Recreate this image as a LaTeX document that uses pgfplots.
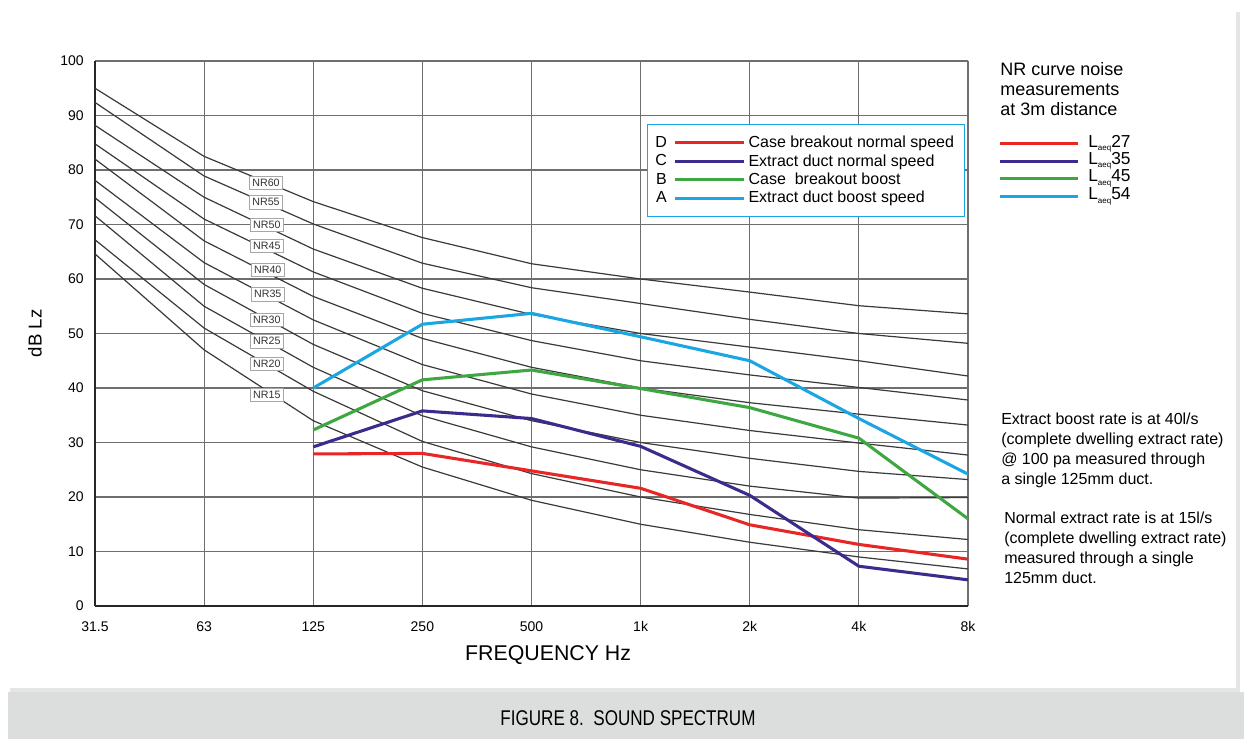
\documentclass[border=0pt]{standalone}
\usepackage{fontspec}
\setmainfont{Liberation Sans}
\newfontfamily\cond[FakeStretch=0.8]{Liberation Sans}
\usepackage{pgfplots}
\pgfplotsset{compat=1.18}
\definecolor{cRed}{RGB}{232,38,38}
\definecolor{cPur}{RGB}{62,42,140}
\definecolor{cGrn}{RGB}{62,168,64}
\definecolor{cBlu}{RGB}{26,166,226}
\definecolor{band}{RGB}{220,222,221}
\definecolor{nrgray}{RGB}{58,58,58}
\definecolor{gridgray}{RGB}{110,110,110}
\pgfplotsset{
  nr/.style={nrgray, line width=0.9pt, forget plot},
  ser/.style={line width=2.3pt},
  legL/.style={legend image code/.code={%
     \node[anchor=east, inner sep=0pt, text=black, font=\fontsize{12}{13}\selectfont] at (-5pt,0pt) {#1};
     \draw[##1] (0pt,0pt) -- (52pt,0pt);}},
}
\tikzset{
  nrlab/.style={draw=black!35, fill=white, text=black!80, font=\fontsize{8}{9}\selectfont,
     inner sep=1pt, minimum width=25pt, minimum height=10pt},
}
\begin{document}
\begin{tikzpicture}
\begin{scope}[x=0.75pt,y=-0.75pt]
\useasboundingbox (0,0) rectangle (1244,739);
\fill[white] (0,0) rectangle (1244,739);
\fill[black!10] (10,12) rectangle (1240,692);
\fill[white] (7,9) rectangle (1236,688);
\fill[band] (8,692) rectangle (1244,739);
\node[font=\cond\fontsize{16}{18}\selectfont] at (628,718) {FIGURE 8.\ \ SOUND SPECTRUM};
% right-hand texts
\node[anchor=north west, align=left, inner sep=0pt, font=\fontsize{13.5}{15}\selectfont] at (1000,62)
  {NR curve noise\\measurements\\at 3m distance};
\draw[cRed, line width=2.25pt] (1000,143.5) -- (1078,143.5);
\draw[cPur, line width=2.25pt] (1000,161) -- (1078,161);
\draw[cGrn, line width=2.25pt] (1000,178.5) -- (1078,178.5);
\draw[cBlu, line width=2.25pt] (1000,196.5) -- (1078,196.5);
\node[anchor=west, inner sep=0pt, font=\fontsize{13}{14}\selectfont] at (1088,143.5) {L\raisebox{-2.5pt}{\fontsize{6}{7}\selectfont aeq}27};
\node[anchor=west, inner sep=0pt, font=\fontsize{13}{14}\selectfont] at (1088,161) {L\raisebox{-2.5pt}{\fontsize{6}{7}\selectfont aeq}35};
\node[anchor=west, inner sep=0pt, font=\fontsize{13}{14}\selectfont] at (1088,178.5) {L\raisebox{-2.5pt}{\fontsize{6}{7}\selectfont aeq}45};
\node[anchor=west, inner sep=0pt, font=\fontsize{13}{14}\selectfont] at (1088,196.5) {L\raisebox{-2.5pt}{\fontsize{6}{7}\selectfont aeq}54};
\node[anchor=north west, align=left, inner sep=0pt, font=\fontsize{12}{15}\selectfont] at (1001,413)
  {Extract boost rate is at 40l/s\\(complete dwelling extract rate)\\@ 100 pa measured through\\a single 125mm duct.};
\node[anchor=north west, align=left, inner sep=0pt, font=\fontsize{12}{15}\selectfont] at (1004,512)
  {Normal extract rate is at 15l/s\\(complete dwelling extract rate)\\measured through a single\\125mm duct.};
\end{scope}

\begin{axis}[
  at={(71.25pt,-454.5pt)}, anchor=south west,
  scale only axis, width=654.75pt, height=408.75pt,
  xmin=0, xmax=8, ymin=0, ymax=100,
  xtick={0,...,8}, xticklabels={31.5,63,125,250,500,1k,2k,4k,8k},
  ytick={0,10,...,100},
  grid=major, major grid style={gridgray, line width=0.9pt},
  major tick length=0pt,
  axis lines*=left,
  axis line style={line width=2pt, black!85, -},
  /pgf/number format/assume math mode=true,
  tick label style={font=\fontsize{10.5}{12}\selectfont, text=black},
  xticklabel style={yshift=-8pt},
  yticklabel style={xshift=-5pt},
  xlabel={FREQUENCY Hz},
  xlabel style={font=\fontsize{16}{18}\selectfont, at={(axis description cs:0.519,-0.09)}, anchor=center},
  ylabel={dB Lz},
  ylabel style={font=\fontsize{14}{16}\selectfont, at={(axis description cs:-0.0687,0.5)}, anchor=center},
  legend style={at={(0.632,0.884)}, anchor=north west, draw=cBlu, line width=0.8pt,
     font=\fontsize{12}{13}\selectfont, inner xsep=6pt, inner ysep=6.5pt, row sep=-0.4pt},
  legend cell align=left,
]
% NR curves (31.5 ... 8k)
\addplot[nr] coordinates {(0,64.6)(1,47.0)(2,34.0)(3,25.5)(4,19.4)(5,15.0)(6,11.7)(7,9.0)(8,6.8)};
\addplot[nr] coordinates {(0,67.2)(1,51.0)(2,39.4)(3,30.2)(4,24.3)(5,20.0)(6,16.8)(7,14.0)(8,12.2)};
\addplot[nr] coordinates {(0,71.6)(1,55.0)(2,43.8)(3,34.9)(4,29.2)(5,25.0)(6,22.0)(7,19.8)(8,19.9)};
\addplot[nr] coordinates {(0,74.9)(1,59.0)(2,48.0)(3,39.5)(4,34.0)(5,30.0)(6,27.1)(7,24.7)(8,23.2)};
\addplot[nr] coordinates {(0,78.1)(1,63.0)(2,52.5)(3,44.3)(4,38.9)(5,35.0)(6,32.2)(7,29.9)(8,27.7)};
\addplot[nr] coordinates {(0,82.0)(1,67.0)(2,56.8)(3,49.1)(4,43.8)(5,40.0)(6,37.3)(7,35.2)(8,33.2)};
\addplot[nr] coordinates {(0,84.8)(1,71.0)(2,61.3)(3,53.7)(4,48.7)(5,45.0)(6,42.4)(7,40.1)(8,37.8)};
\addplot[nr] coordinates {(0,88.2)(1,75.0)(2,65.5)(3,58.3)(4,53.5)(5,50.0)(6,47.5)(7,45.0)(8,42.2)};
\addplot[nr] coordinates {(0,92.4)(1,78.9)(2,70.1)(3,62.9)(4,58.4)(5,55.5)(6,52.6)(7,50.0)(8,48.2)};
\addplot[nr] coordinates {(0,95.0)(1,82.5)(2,74.2)(3,67.6)(4,62.8)(5,60.0)(6,57.6)(7,55.1)(8,53.6)};
% NR labels
\node[nrlab] at (axis cs:1.567,77.7) {NR60};
\node[nrlab] at (axis cs:1.567,74.1) {NR55};
\node[nrlab] at (axis cs:1.575,70.0) {NR50};
\node[nrlab] at (axis cs:1.575,66.1) {NR45};
\node[nrlab] at (axis cs:1.583,61.7) {NR40};
\node[nrlab] at (axis cs:1.583,57.2) {NR35};
\node[nrlab] at (axis cs:1.575,52.5) {NR30};
\node[nrlab] at (axis cs:1.575,48.6) {NR25};
\node[nrlab] at (axis cs:1.575,44.5) {NR20};
\node[nrlab] at (axis cs:1.575,38.8) {NR15};
% measured series
\addplot[ser, cRed, legL=D] coordinates {(2,27.9)(3,28.0)(4,24.8)(5,21.6)(6,14.9)(7,11.3)(8,8.6)};
\addlegendentry{Case breakout normal speed}
\addplot[ser, cPur, legL=C] coordinates {(2,29.2)(3,35.8)(4,34.4)(5,29.3)(6,20.3)(7,7.3)(8,4.8)};
\addlegendentry{Extract duct normal speed}
\addplot[ser, cGrn, legL=B] coordinates {(2,32.3)(3,41.5)(4,43.3)(5,39.9)(6,36.4)(7,30.8)(8,16.0)};
\addlegendentry{Case\ \ breakout boost}
\addplot[ser, cBlu, legL=A] coordinates {(2,40.0)(3,51.7)(4,53.7)(5,49.4)(6,45.0)(7,34.4)(8,24.2)};
\addlegendentry{Extract duct boost speed}
\end{axis}
\end{tikzpicture}
\end{document}
